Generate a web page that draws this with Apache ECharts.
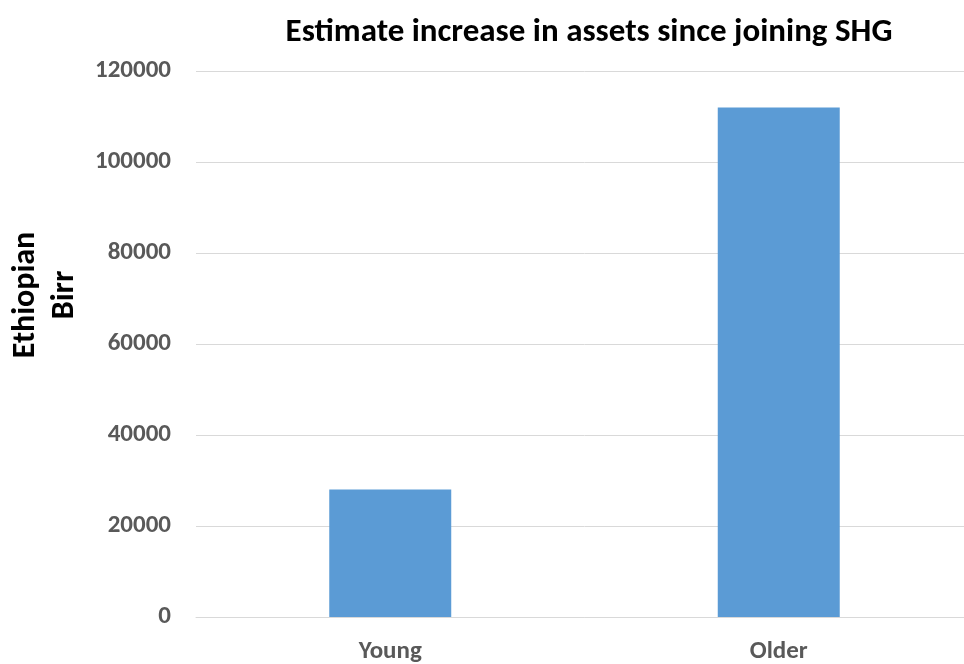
<!DOCTYPE html>
<html>
<head>
<meta charset="utf-8">
<script src="https://cdn.jsdelivr.net/npm/echarts@6/dist/echarts.min.js"></script>
<style>
html,body{margin:0;padding:0;background:#fff;overflow:hidden;width:964px;height:664px;}
#chart{width:973px;height:664px;}
</style>
</head>
<body>
<div id="chart"></div>
<script>
const categories = ['Young', 'Older'];
const values = [28000, 112000];
const yTicks = [0, 20000, 40000, 60000, 80000, 100000, 120000];
const yAxisTitle = 'Ethiopian\nBirr';
const chartTitle = 'Estimate increase in assets since joining SHG';

const FONT = 'Carlito, Lato, "Open Sans", sans-serif';
const chart = echarts.init(document.getElementById('chart'));
chart.setOption({
  animation: false,
  title: {
    text: chartTitle,
    left: 584,
    textAlign: 'center',
    top: 11,
    textStyle: { fontFamily: FONT, fontWeight: 'bold', fontSize: 33, color: '#000' }
  },
  grid: { left: 196, right: 0, top: 71, bottom: 46, containLabel: false },
  xAxis: {
    type: 'category',
    data: categories,
    axisLine: { lineStyle: { color: '#d9d9d9' } },
    axisTick: { show: false },
    axisLabel: { color: '#595959', fontWeight: 'bold', fontSize: 25, margin: 22, fontFamily: FONT }
  },
  yAxis: {
    type: 'value',
    min: yTicks[0],
    max: yTicks[yTicks.length - 1],
    interval: yTicks[1] - yTicks[0],
    axisLine: { show: false },
    axisTick: { show: false },
    splitLine: { lineStyle: { color: '#d9d9d9' } },
    axisLabel: { color: '#595959', fontWeight: 'bold', fontSize: 25, margin: 25, fontFamily: FONT,
      formatter: v => String(v) }
  },
  graphic: [{
    type: 'text',
    x: 45,
    y: 295,
    rotation: Math.PI / 2,
    style: {
      text: yAxisTitle,
      fontFamily: FONT,
      fontWeight: 'bold',
      fontSize: 32,
      lineHeight: 39,
      fill: '#000',
      align: 'center',
      verticalAlign: 'middle'
    }
  }],
  series: [{
    type: 'bar',
    data: values,
    barWidth: '31.4%',
    itemStyle: { color: '#5b9bd5' }
  }]
});
</script>
</body>
</html>
